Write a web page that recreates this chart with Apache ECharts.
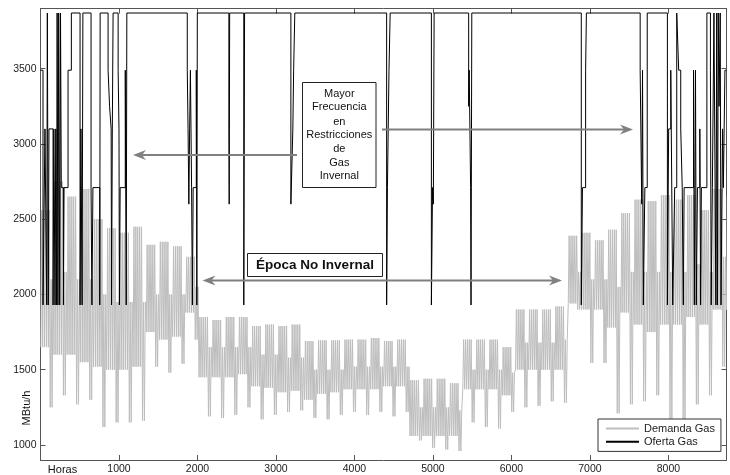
<!DOCTYPE html>
<html>
<head>
<meta charset="utf-8">
<script src="https://cdn.jsdelivr.net/npm/echarts@6/dist/echarts.min.js"></script>
<style>
  html, body { margin: 0; padding: 0; background: #fff; }
  #chart { width: 730px; height: 475px; }
</style>
</head>
<body>
<div id="chart"></div>
<script>
// Axis ticks
const xTicks = [1000, 2000, 3000, 4000, 5000, 6000, 7000, 8000];
const yTicks = [1000, 1500, 2000, 2500, 3000, 3500];

// Gas demand (MBtu/h), one entry per week of the year (53 entries)
// weekday daily peak
const semanaPico = [
  2560, 2750, 2650, 2700, 2500, 2440, 2410, 2450, 2330, 2350, 2320, 2250,
  1850, 1830, 1850, 1850, 1790, 1800, 1790, 1800, 1690, 1695, 1695, 1700,
  1700, 1710, 1690, 1700, 1430, 1440, 1440, 1410, 1700, 1700, 1700, 1650,
  1900, 1900, 1900, 1920, 2390, 2410, 2360, 2430, 2540, 2630, 2620, 2660,
  2630, 2660, 2560, 2700, 2650
];
// weekday night-time low
const semanaValle = [
  1650, 1600, 1600, 1550, 1520, 1500, 1500, 1520, 1750, 1700, 1720, 1880,
  1450, 1450, 1450, 1470, 1390, 1380, 1350, 1360, 1300, 1340, 1350, 1370,
  1370, 1370, 1390, 1390, 1060, 1060, 1060, 1060, 1370, 1370, 1370, 1330,
  1500, 1500, 1500, 1500, 1940, 1900, 1900, 1780, 1880, 1800, 1750, 1800,
  1800, 1850, 1800, 1900, 1900
];
// weekend daily peak
const findePico = [
  2100, 2150, 2100, 2100, 2000, 1950, 1950, 1950, 2000, 2000, 2000, 2050,
  1650, 1650, 1650, 1650, 1600, 1600, 1580, 1580, 1500, 1500, 1500, 1520,
  1520, 1520, 1520, 1520, 1250, 1250, 1250, 1230, 1500, 1500, 1500, 1480,
  1680, 1680, 1680, 1700, 2150, 2100, 2100, 2050, 2150, 2150, 2150, 2150,
  2150, 2200, 2150, 2250, 2250
];
// weekend low
const findeValle = [
  1250, 1330, 1270, 1300, 1120, 1150, 1150, 1160, 1520, 1480, 1540, 1700,
  1190, 1180, 1200, 1250, 1170, 1200, 1220, 1230, 1180, 1170, 1200, 1220,
  1200, 1220, 1190, 1220, 1030,  980,  970,  960, 1150, 1120, 1110, 1220,
  1250, 1260, 1290, 1280, 1900, 1545, 1545, 1210, 1270, 1290, 1330, 1150,
  1150, 1270, 1330, 1520, 1500
];

// Gas supply (MBtu/h): [hour, level held until the next change]
const ofertaGas = [
  [0, 3490], [32, 1930], [57, 3100], [79, 1930], [87, 3870], [99, 1930],
  [108, 3100], [160, 1930], [170, 3100], [185, 1930], [195, 3100], [205, 1930],
  [212, 3870], [222, 1930], [232, 3870], [245, 1930], [255, 3870], [265, 2710],
  [292, 1930], [300, 2710], [351, 3490], [393, 3870], [504, 1930], [515, 3100],
  [530, 1930], [540, 3870], [644, 2710], [655, 1930], [668, 2710], [755, 1930],
  [760, 3870], [861, 3490], [880, 3250], [900, 3100], [905, 1930], [915, 3100],
  [925, 3870], [989, 3490], [1000, 3100], [1005, 1930], [1015, 2710], [1080, 3490],
  [1092, 1930], [1100, 3870],
  [1870, 3490], [1880, 3100], [1890, 2600], [1900, 3100], [1910, 3490], [1925, 2710],
  [1935, 1930], [1945, 2710], [1985, 3490], [1992, 1930], [1998, 3870],
  [2400, 3100], [2404, 2600], [2410, 3870],
  [2590, 1930], [2600, 3870],
  [3190, 2600], [3215, 3100], [3225, 3490], [3240, 3870],
  [4410, 1930], [4420, 2710], [4440, 3490], [4455, 3870],
  [4980, 1930], [4995, 2710], [5005, 2600], [5015, 3870],
  [5455, 3250], [5462, 3490], [5480, 2710], [5485, 1930], [5495, 3870],
  [6890, 1930], [6905, 2710], [6945, 3490], [6955, 3870],
  [7640, 3490], [7660, 2600], [7670, 3490], [7680, 1930], [7700, 2710], [7730, 3870],
  [7987, 1930], [8003, 3100], [8030, 3490], [8055, 1930], [8080, 2710], [8106, 3870],
  [8131, 3490], [8157, 3100], [8176, 2710], [8190, 1930], [8200, 2710], [8320, 3490],
  [8330, 1930], [8345, 3490], [8355, 1930], [8370, 2710], [8400, 3100], [8410, 1930],
  [8420, 2710], [8490, 3870], [8535, 3490], [8545, 1930], [8560, 2710], [8580, 3870],
  [8605, 1930], [8615, 3870], [8625, 1930], [8635, 3870], [8645, 3250], [8660, 3870],
  [8670, 1930], [8690, 3100], [8700, 2710], [8720, 3490], [8740, 3490]
];

// Hourly demand line: one low and one peak per day, weekend = days 5 and 6
const demanda = [];
for (let d = 0; d < 365; d++) {
  const w = Math.floor(d / 7);
  const finde = (d % 7) >= 5;
  demanda.push([d * 24 + 4, finde ? findeValle[w] : semanaValle[w]]);
  demanda.push([d * 24 + 15, finde ? findePico[w] : semanaPico[w]]);
}

// Supply as a staircase: each level holds until the next change, then drops/rises vertically
const ofertaEscalones = [];
ofertaGas.forEach(function (p, i) {
  if (i > 0) ofertaEscalones.push([p[0], ofertaGas[i - 1][1]]);
  ofertaEscalones.push([p[0], p[1]]);
});

const FONT = '"Liberation Sans", Arial, sans-serif';
const AXIS = '#555';
const ARROW = '#808080';

function axisCommon(min, max, ticks, showLabels, pos) {
  return {
    type: 'value', min: min, max: max, position: pos,
    axisLine: { show: true, onZero: false, lineStyle: { color: AXIS, width: 1 } },
    axisTick: { show: true, inside: true, length: 5, customValues: ticks, lineStyle: { color: AXIS } },
    axisLabel: {
      show: showLabels, customValues: ticks, margin: 4, color: '#222', fontSize: 10.5, fontFamily: FONT,
      formatter: function (v) { return String(v); }
    },
    splitLine: { show: false }
  };
}

function arrowHead(x, y, dir) {
  const L = 13, W = 5, N = 9;
  return {
    type: 'polygon', z: 100,
    shape: { points: [[x, y], [x - dir * L, y - W], [x - dir * N, y], [x - dir * L, y + W]] },
    style: { fill: ARROW }
  };
}
function arrowLine(x1, y, x2) {
  return { type: 'line', z: 99, shape: { x1: x1, y1: y, x2: x2, y2: y }, style: { stroke: ARROW, lineWidth: 2 } };
}
function label(txt, x, y, size, weight, rot) {
  return {
    type: 'text', z: 101, x: x, y: y, rotation: rot || 0,
    style: {
      text: txt, fill: '#111', font: (weight || 'normal') + ' ' + size + 'px ' + FONT,
      align: 'center', verticalAlign: 'middle', textAlign: 'center', textVerticalAlign: 'middle'
    }
  };
}

const chart = echarts.init(document.getElementById('chart'), null, { renderer: 'canvas' });
chart.setOption({
  animation: false,
  backgroundColor: '#fff',
  grid: { left: 40.5, top: 8.5, width: 686, height: 451.5 },
  xAxis: [
    axisCommon(0, 8740, xTicks, true, 'bottom'),
    axisCommon(0, 8740, xTicks, false, 'top')
  ],
  yAxis: [
    axisCommon(900, 3900, yTicks, true, 'left'),
    axisCommon(900, 3900, yTicks, false, 'right')
  ],
  legend: {
    orient: 'vertical', left: 598, top: 419,
    padding: [4, 6, 4, 7], itemGap: 2, itemWidth: 33, itemHeight: 14,
    borderColor: '#333', borderWidth: 1, backgroundColor: '#fff',
    itemStyle: { opacity: 0 },
    textStyle: { fontSize: 11, color: '#222', fontFamily: FONT },
    data: ['Demanda Gas', 'Oferta Gas']
  },
  series: [
    {
      name: 'Demanda Gas', type: 'line', data: demanda, symbol: 'none', silent: true,
      sampling: null, lineStyle: { color: '#bdbdbd', width: 1 }, itemStyle: { color: '#bdbdbd' }, z: 2
    },
    {
      name: 'Oferta Gas', type: 'line', data: ofertaEscalones, symbol: 'none', silent: true,
      lineStyle: { color: '#000', width: 1 }, itemStyle: { color: '#000' }, z: 3
    }
  ],
  graphic: [
    // winter restrictions note
    arrowLine(297, 155, 142), arrowHead(133, 155, -1),
    arrowLine(382, 129.5, 624), arrowHead(633, 129.5, 1),
    { type: 'rect', z: 100, shape: { x: 302.5, y: 82.5, width: 73.5, height: 105 }, style: { fill: '#fff', stroke: '#222', lineWidth: 1 } },
    label('Mayor', 339.3, 93.5, 11),
    label('Frecuencia', 339.3, 107.3, 11),
    label('en', 339.3, 121.5, 11),
    label('Restricciones', 339.3, 135, 11),
    label('de', 339.3, 149, 11),
    label('Gas', 339.3, 162.5, 11),
    label('Invernal', 339.3, 175.8, 11),
    // non-winter season note
    arrowLine(211, 280.5, 553), arrowHead(202.5, 280.5, -1), arrowHead(562, 280.5, 1),
    { type: 'rect', z: 100, shape: { x: 247.5, y: 253.5, width: 135, height: 23 }, style: { fill: '#fff', stroke: '#222', lineWidth: 1 } },
    label('Época No Invernal', 315, 265.5, 13.5, 'bold'),
    // axis captions
    label('Horas', 62.5, 469.5, 11),
    label('MBtu/h', 27, 408, 11, 'normal', Math.PI / 2)
  ]
});
</script>
</body>
</html>
